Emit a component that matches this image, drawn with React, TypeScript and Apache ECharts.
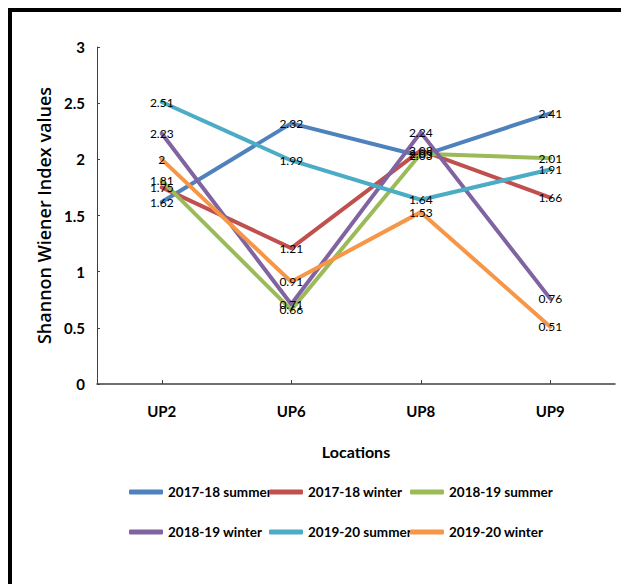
import React, { useEffect, useRef } from "react";
import * as echarts from "echarts";

const categories = ["UP2", "UP6", "UP8", "UP9"];
const seriesNames = [
  "2017-18 summer",
  "2017-18 winter",
  "2018-19 summer",
  "2018-19 winter",
  "2019-20 summer",
  "2019-20 winter",
];
const s1718Summer = [1.62, 2.32, 2.03, 2.41];
const s1718Winter = [1.75, 1.21, 2.08, 1.66];
const s1819Summer = [1.81, 0.66, 2.05, 2.01];
const s1819Winter = [2.23, 0.71, 2.24, 0.76];
const s1920Summer = [2.51, 1.99, 1.64, 1.91];
const s1920Winter = [2, 0.91, 1.53, 0.51];
const yTicks = [0, 0.5, 1, 1.5, 2, 2.5, 3];

const colors = ["#4F81BD", "#C0504D", "#9BBB59", "#8064A2", "#4BACC6", "#F79646"];
const allData = [s1718Summer, s1718Winter, s1819Summer, s1819Winter, s1920Summer, s1920Winter];

const NARROW = "Lato, 'Liberation Sans', sans-serif";

export default function App() {
  const ref = useRef<HTMLDivElement>(null);
  useEffect(() => {
    if (!ref.current) return;
    const chart = echarts.init(ref.current, undefined, { renderer: "svg" });
    const legendPos = [
      [129, 485],
      [269, 485],
      [410, 485],
      [129, 525],
      [269, 525],
      [410, 525],
    ];
    chart.setOption({
      animation: false,
      backgroundColor: "#fff",
      grid: { left: 97, right: 6, top: 47, bottom: 200 },
      legend: seriesNames.map((n, i) => ({
        data: [n],
        left: legendPos[i][0],
        top: legendPos[i][1],
        icon: "roundRect",
        itemWidth: 34,
        itemHeight: 5,
        padding: 0,
        textStyle: { fontFamily: NARROW, fontWeight: "bold", fontSize: 13.5, color: "#000" },
      })),
      xAxis: {
        type: "category",
        data: categories,
        name: "Locations",
        nameLocation: "middle",
        nameGap: 59,
        nameTextStyle: { fontFamily: NARROW, fontWeight: "bold", fontSize: 16, color: "#000" },
        axisLine: { lineStyle: { color: "#404040", width: 1.5 } },
        axisTick: { show: true, inside: true, alignWithLabel: true, length: 4, lineStyle: { color: "#404040" } },
        axisLabel: { fontFamily: NARROW, fontWeight: "bold", fontSize: 15, color: "#000", margin: 19 },
      },
      yAxis: {
        type: "value",
        min: yTicks[0],
        max: yTicks[yTicks.length - 1],
        interval: 0.5,
        name: "Shannon Wiener Index values",
        nameLocation: "middle",
        nameGap: 44,
        nameTextStyle: { fontFamily: "'Open Sans', sans-serif", fontWeight: 600, fontSize: 18, color: "#000" },
        axisLine: { show: true, lineStyle: { color: "#404040", width: 1 } },
        axisTick: { show: true, inside: true, length: 3, lineStyle: { color: "#404040" } },
        splitLine: { show: false },
        axisLabel: { fontFamily: NARROW, fontWeight: "bold", fontSize: 15, color: "#000", margin: 12 },
      },
      series: seriesNames.map((n, i) => ({
        name: n,
        type: "line",
        data: allData[i],
        color: colors[i],
        lineStyle: { width: 4, color: colors[i], cap: "round", join: "round" },
        symbol: "circle",
        symbolSize: 0,
        showSymbol: true,
        label: {
          show: true,
          position: "inside",
          fontFamily: NARROW,
          fontSize: 12,
          color: "#000",
          formatter: (p: any) => String(p.value),
        },
      })),
    });
    return () => chart.dispose();
  }, []);
  return (
    <div style={{ position: "fixed", left: 0, top: 0, width: 621, height: 584, overflow: "hidden", background: "#fff" }}>
      <div ref={ref} style={{ position: "absolute", left: 0, top: 0, width: 621, height: 584 }} />
      <div
        style={{
          position: "absolute",
          left: 8,
          top: 8,
          width: 640,
          height: 600,
          borderLeft: "4px solid #000",
          borderTop: "4px solid #000",
          pointerEvents: "none",
        }}
      />
    </div>
  );
}
